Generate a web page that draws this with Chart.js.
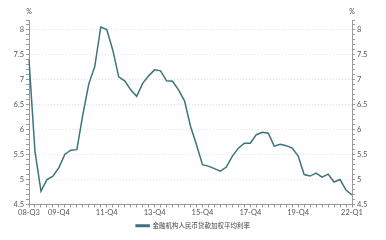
<!DOCTYPE html>
<html>
<head>
<meta charset="utf-8">
<script src="https://cdn.jsdelivr.net/npm/chart.js@4.4.1/dist/chart.umd.min.js"></script>
<style>
  html, body { margin: 0; padding: 0; background: #fff; }
  #wrap { width: 386px; height: 240px; position: relative; }
</style>
</head>
<body>
<div id="wrap"><canvas id="myChart"></canvas></div>
<script>
// quarters 2008-Q3 .. 2022-Q1
var quarters = [];
for (var y = 2008; y <= 2022; y++) {
    for (var q = 1; q <= 4; q++) {
        if (y === 2008 && q < 3) continue;
        if (y === 2022 && q > 1) continue;
        quarters.push(String(y).slice(2) + '-Q' + q);
    }
}

var shownTicks = ['08-Q3', '09-Q4', '11-Q4', '13-Q4', '15-Q4', '17-Q4', '19-Q4', '22-Q1'];

var seriesName = '金融机构人民币贷款加权平均利率';
var rates = [7.40, 5.56, 4.77, 5.00, 5.07, 5.24, 5.51, 5.59, 5.60, 6.30,
             6.92, 7.27, 8.06, 8.01, 7.60, 7.06, 6.98, 6.80, 6.67, 6.93,
             7.08, 7.20, 7.18, 6.98, 6.97, 6.80, 6.58, 6.07, 5.70, 5.30,
             5.27, 5.22, 5.17, 5.25, 5.47, 5.63, 5.73, 5.73, 5.90, 5.95,
             5.93, 5.67, 5.71, 5.68, 5.63, 5.47, 5.10, 5.07, 5.13, 5.05,
             5.11, 4.95, 5.00, 4.79, 4.69];

var yMin = 4.5, yMax = 8.2;
var lineColor = '#3b7479';
var axisColor = '#9a9a9a';
var tickFont = { family: 'Lato', size: 7.5 };

function isMajor(v) {
    return Math.abs(v * 2 - Math.round(v * 2)) < 0.001;
}

function yTickLabel(v) {
    return isMajor(v) ? String(Math.round(v * 10) / 10) : '';
}

// "%" unit above each y axis
var unitPlugin = {
    id: 'unitLabels',
    afterDraw: function (chart) {
        var c = chart.ctx;
        c.save();
        c.fillStyle = '#555';
        c.font = '7px Lato';
        c.textAlign = 'center';
        c.textBaseline = 'middle';
        c.fillText('%', chart.scales.y.right, 12);
        c.fillText('%', chart.scales.y2.left, 12);
        c.restore();
    }
};

var ctx = document.getElementById('myChart');

new Chart(ctx, {
    type: 'line',
    data: {
        labels: quarters,
        datasets: [{
            label: seriesName,
            data: rates,
            borderColor: lineColor,
            backgroundColor: lineColor,
            borderWidth: 1.5,
            pointRadius: 0,
            tension: 0,
            yAxisID: 'y'
        }, {
            label: '',
            data: [],
            yAxisID: 'y2'
        }]
    },
    options: {
        responsive: true,
        maintainAspectRatio: false,
        animation: false,
        layout: { padding: { top: 20, left: 0, right: 0, bottom: 1 } },
        plugins: {
            legend: {
                position: 'bottom',
                labels: {
                    filter: function (item) { return item.text !== ''; },
                    boxWidth: 13,
                    boxHeight: 1.5,
                    padding: 4,
                    color: '#444',
                    font: { family: 'Noto Sans CJK SC', size: 6.5 }
                }
            },
            tooltip: { enabled: false }
        },
        scales: {
            x: {
                offset: false,
                grid: { drawOnChartArea: false, tickLength: 3, color: axisColor, tickColor: axisColor },
                border: { color: axisColor, width: 1 },
                ticks: {
                    autoSkip: false,
                    maxRotation: 0,
                    padding: 1,
                    color: '#555',
                    font: tickFont,
                    callback: function (v, i) {
                        var l = quarters[i];
                        return shownTicks.indexOf(l) >= 0 ? l : '';
                    }
                },
                afterFit: function (s) { s.height = 14; }
            },
            y: {
                position: 'left',
                min: yMin,
                max: yMax,
                grid: {
                    color: function (c) {
                        return c.tick && isMajor(c.tick.value) && c.tick.value > yMin ? '#e2e2e2' : 'rgba(0,0,0,0)';
                    },
                    tickColor: axisColor,
                    tickLength: 3
                },
                border: { color: axisColor, width: 1, dash: [1, 2] },
                ticks: {
                    stepSize: 0.1,
                    autoSkip: false,
                    padding: 2,
                    color: '#555',
                    font: tickFont,
                    callback: yTickLabel
                },
                afterFit: function (s) { s.width = 29; }
            },
            y2: {
                position: 'right',
                min: yMin,
                max: yMax,
                grid: { drawOnChartArea: false, tickColor: axisColor, tickLength: 3 },
                border: { color: axisColor, width: 1 },
                ticks: {
                    stepSize: 0.1,
                    autoSkip: false,
                    padding: 2,
                    color: '#555',
                    font: tickFont,
                    callback: yTickLabel
                },
                afterFit: function (s) { s.width = 34; }
            }
        }
    },
    plugins: [unitPlugin]
});
</script>
</body>
</html>
